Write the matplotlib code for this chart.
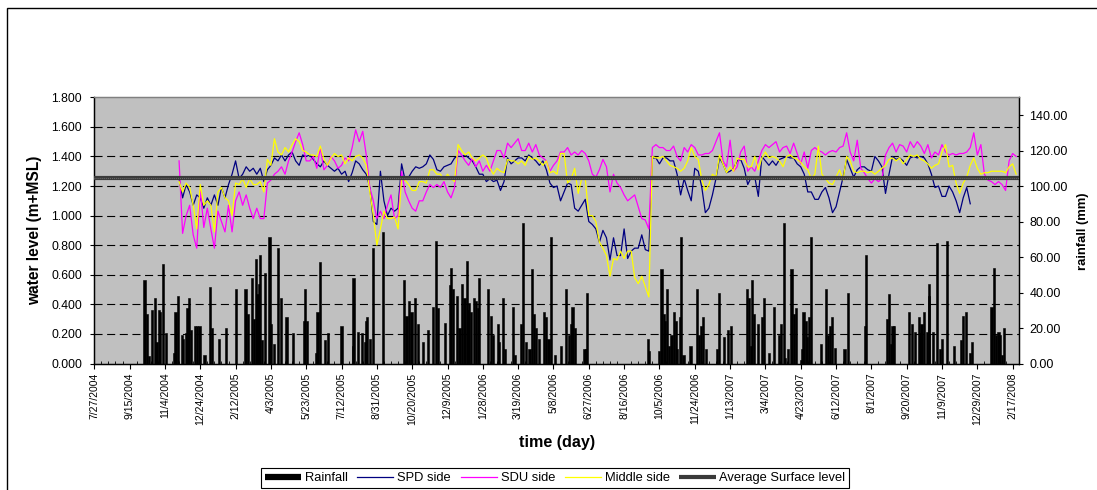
import numpy as np
import matplotlib
matplotlib.use("Agg")
import matplotlib.pyplot as plt
from matplotlib.lines import Line2D
from matplotlib.patches import Rectangle
from matplotlib.ticker import FormatStrFormatter, MultipleLocator

plt.rcParams['font.family'] = ['Liberation Sans', 'DejaVu Sans']
plt.rcParams['lines.scale_dashes'] = False

# ---------------- data ----------------
# x values are days counted from 7/27/2004
LEVEL_FIRST_DAY = 120
LEVEL_STEP_DAYS = 5

spd_side = [
    1.25, 1.12, 1.21, 1.16, 1.07, 1.14, 1.12, 1.05, 1.12, 1.07,
    1.14, 1.07, 1.19, 1.12, 1.21, 1.28, 1.37, 1.25, 1.28, 1.33,
    1.30, 1.32, 1.28, 1.32, 1.23, 1.31, 1.34, 1.39, 1.37, 1.41,
    1.37, 1.41,
    1.43, 1.37, 1.34, 1.41, 1.40, 1.41, 1.38, 1.35, 1.33, 1.37,
    1.34, 1.32, 1.30, 1.32, 1.28, 1.30, 1.23, 1.29, 1.37, 1.35,
    1.31, 1.28, 1.19, 0.96, 0.94, 1.30, 1.10, 1.00, 1.05, 1.03,
    1.05, 1.35, 1.24, 1.26, 1.30, 1.33, 1.32, 1.33, 1.35, 1.41,
    1.38, 1.31,
    1.30, 1.33, 1.34, 1.35, 1.39, 1.40, 1.40, 1.41, 1.39, 1.37,
    1.33, 1.28, 1.28, 1.23, 1.25, 1.23, 1.24, 1.17, 1.23, 1.39,
    1.35, 1.37, 1.39, 1.39, 1.37, 1.41, 1.39, 1.37, 1.34, 1.37,
    1.31, 1.22, 1.19, 1.20, 1.10, 1.16, 1.22, 1.21, 1.05, 1.03,
    1.07, 1.11,
    0.96, 0.94, 0.91, 0.82, 0.90, 0.85, 0.70, 0.85, 0.73, 0.73,
    0.91, 0.71, 0.76, 0.78, 0.78, 0.87, 0.77, 0.76, 1.39, 1.39,
    1.35, 1.39, 1.39, 1.37, 1.37, 1.28, 1.14, 1.25, 1.17, 1.10,
    1.32, 1.30, 1.19, 1.02, 1.05, 1.14, 1.25, 1.39, 1.35, 1.29,
    1.30, 1.32,
    1.37, 1.38, 1.32, 1.21, 1.26, 1.26, 1.13, 1.40, 1.37, 1.34,
    1.37, 1.34, 1.38, 1.39, 1.40, 1.39, 1.39, 1.35, 1.33, 1.28,
    1.16, 1.16, 1.11, 1.11, 1.16, 1.19, 1.12, 1.02, 1.06, 1.16,
    1.26, 1.38, 1.32, 1.26, 1.31, 1.33, 1.33, 1.31, 1.30, 1.40,
    1.37, 1.33,
    1.15, 1.28, 1.40, 1.38, 1.39, 1.37, 1.34, 1.39, 1.40, 1.39,
    1.40, 1.39, 1.35, 1.28, 1.19, 1.20, 1.13, 1.13, 1.20, 1.16,
    1.10, 1.02, 1.12, 1.19, 1.08,
]

sdu_side = [
    1.37, 0.88, 1.00, 1.07, 0.87, 0.78, 1.18, 0.92, 1.05, 0.91,
    0.78, 1.03, 0.96, 0.89, 1.07, 0.89, 1.10, 1.16, 1.07, 1.14,
    1.05, 0.98, 1.05, 0.98, 0.98, 1.22, 1.24, 1.28, 1.30, 1.33,
    1.28, 1.37,
    1.43, 1.50, 1.56, 1.48, 1.37, 1.37, 1.40, 1.32, 1.46, 1.31,
    1.34, 1.40, 1.37, 1.32, 1.34, 1.39, 1.37, 1.46, 1.58, 1.50,
    1.57, 1.41, 1.19, 1.10, 0.98, 1.03, 0.98, 1.07, 1.14, 0.98,
    1.00, 1.30, 1.16, 1.10, 1.05, 1.03, 1.10, 1.10, 1.16, 1.21,
    1.19, 1.21,
    1.19, 1.23, 1.16, 1.12, 1.19, 1.44, 1.41, 1.37, 1.34, 1.39,
    1.33, 1.37, 1.30, 1.34, 1.30, 1.37, 1.44, 1.44, 1.39, 1.49,
    1.46, 1.49, 1.52, 1.44, 1.44, 1.49, 1.43, 1.48, 1.41, 1.39,
    1.37, 1.30, 1.34, 1.37, 1.43, 1.43, 1.46, 1.41, 1.43, 1.41,
    1.44, 1.42,
    1.37, 1.28, 1.26, 1.31, 1.38, 1.33, 1.16, 1.28, 1.22, 1.19,
    1.14, 1.10, 1.12, 1.14, 1.06, 0.98, 0.97, 0.91, 1.46, 1.48,
    1.46, 1.46, 1.44, 1.44, 1.47, 1.40, 1.37, 1.46, 1.43, 1.48,
    1.46, 1.41, 1.41, 1.42, 1.42, 1.44, 1.50, 1.56, 1.37, 1.33,
    1.51, 1.30,
    1.33, 1.43, 1.47, 1.30, 1.33, 1.30, 1.37, 1.44, 1.48, 1.46,
    1.48, 1.50, 1.43, 1.46, 1.47, 1.42, 1.49, 1.42, 1.35, 1.43,
    1.32, 1.44, 1.46, 1.44, 1.43, 1.41, 1.43, 1.44, 1.43, 1.46,
    1.47, 1.56, 1.43, 1.37, 1.51, 1.32, 1.29, 1.25, 1.22, 1.25,
    1.23, 1.25,
    1.41, 1.46, 1.49, 1.43, 1.48, 1.47, 1.43, 1.50, 1.46, 1.50,
    1.47, 1.42, 1.48, 1.39, 1.43, 1.41, 1.48, 1.43, 1.41, 1.42,
    1.41, 1.42, 1.42, 1.43, 1.46, 1.56, 1.41, 1.48, 1.28, 1.24,
    1.23, 1.21, 1.23, 1.21, 1.17, 1.37, 1.42, 1.40,
]

middle_side = [
    1.23, 1.16, 1.22, 1.19, 1.07, 0.91, 1.21, 1.07, 1.10, 1.07,
    0.89, 1.16, 1.19, 1.12, 1.10, 1.00, 1.22, 1.21, 1.25, 1.19,
    1.25, 1.21, 1.21, 1.23, 1.16, 1.38, 1.34, 1.52, 1.43, 1.41,
    1.46, 1.43,
    1.48, 1.52, 1.50, 1.44, 1.43, 1.41, 1.41, 1.40, 1.47, 1.38,
    1.34, 1.39, 1.42, 1.40, 1.41, 1.35, 1.39, 1.37, 1.40, 1.41,
    1.39, 1.34, 1.16, 1.00, 0.80, 0.91, 1.03, 0.98, 0.98, 0.99,
    0.91, 1.25, 1.24, 1.21, 1.17, 1.17, 1.23, 1.23, 1.22, 1.31,
    1.31, 1.28,
    1.28, 1.24, 1.28, 1.25, 1.23, 1.48, 1.44, 1.41, 1.43, 1.39,
    1.37, 1.39, 1.41, 1.39, 1.32, 1.28, 1.32, 1.30, 1.29, 1.38,
    1.37, 1.37, 1.35, 1.37, 1.34, 1.40, 1.38, 1.39, 1.37, 1.34,
    1.37, 1.29, 1.30, 1.28, 1.42, 1.42, 1.22, 1.25, 1.32, 1.15,
    1.25, 1.25,
    1.00, 1.00, 0.96, 0.82, 0.78, 0.73, 0.59, 0.71, 0.70, 0.76,
    0.71, 0.76, 0.76, 0.58, 0.54, 0.59, 0.52, 0.45, 1.40, 1.39,
    1.39, 1.40, 1.37, 1.34, 1.33, 1.32, 1.30, 1.32, 1.37, 1.46,
    1.40, 1.38, 1.24, 1.17, 1.21, 1.28, 1.26, 1.41, 1.35, 1.29,
    1.33, 1.30,
    1.39, 1.38, 1.38, 1.33, 1.33, 1.40, 1.31, 1.39, 1.43, 1.39,
    1.40, 1.39, 1.37, 1.33, 1.40, 1.41, 1.39, 1.38, 1.36, 1.33,
    1.31, 1.25, 1.28, 1.47, 1.28, 1.25, 1.22, 1.21, 1.26, 1.31,
    1.24, 1.40, 1.37, 1.30, 1.29, 1.30, 1.30, 1.29, 1.30, 1.28,
    1.30, 1.32,
    1.34, 1.38, 1.39, 1.37, 1.39, 1.35, 1.38, 1.41, 1.40, 1.41,
    1.38, 1.37, 1.35, 1.32, 1.34, 1.35, 1.43, 1.48, 1.33, 1.34,
    1.22, 1.15, 1.22, 1.26, 1.34, 1.39, 1.32, 1.28, 1.29, 1.29,
    1.30, 1.30, 1.30, 1.30, 1.29, 1.33, 1.35, 1.28,
]

average_surface_level = 1.255

rain_day = [
    71, 74, 78, 82, 86, 88, 92, 93, 97, 102, 113, 115, 118, 124, 126, 130,
    132, 134, 137, 142, 146, 149, 156, 164, 167, 176, 186, 200, 214, 217,
    223, 226, 229, 231, 233, 235, 237, 242, 248, 250, 255, 260, 264, 272,
    281, 297, 298, 301, 314, 316, 320, 326, 331, 350, 366, 367, 373, 379,
    383, 385, 386, 390, 394, 409, 439, 442, 445, 449, 454, 458, 465, 473,
    480, 484, 486, 496, 503, 505, 508, 514, 517, 521, 524, 527, 529, 531,
    533, 537, 540, 543, 545, 557, 562, 565, 571, 573, 578, 582, 593, 596,
    604, 607, 611, 616, 619, 622, 625, 630, 636, 639, 643, 647, 652, 661,
    668, 672, 675, 677, 680, 694, 696, 698, 784, 785, 800, 803, 806, 808,
    811, 813, 817, 821, 823, 825, 829, 831, 834, 844, 853, 856, 859, 862,
    866, 881, 884, 892, 897, 901, 924, 927, 929, 931, 934, 940, 945, 948,
    955, 962, 969, 972, 976, 978, 982, 987, 990, 993, 1000, 1002, 1004,
    1007, 1009, 1012, 1015, 1029, 1036, 1039, 1042, 1044, 1049, 1062, 1067,
    1091, 1093, 1122, 1125, 1128, 1130, 1132, 1153, 1157, 1162, 1167, 1169,
    1171, 1174, 1179, 1181, 1182, 1187, 1193, 1197, 1200, 1207, 1217, 1227,
    1230, 1234, 1240, 1242, 1270, 1274, 1277, 1280, 1282, 1285, 1288,
]
rain_mm = [
    47, 28, 4, 30, 37, 12, 30, 29, 56, 17, 6, 29, 38, 16, 14, 17,
    31, 37, 19, 21, 21, 21, 5, 43, 20, 14, 20, 42, 42, 28,
    48, 25, 59, 39, 45, 61, 13, 51, 71, 22, 11, 65, 37, 26,
    17, 24, 42, 24, 6, 29, 57, 13, 17, 21, 10, 48, 18, 17,
    12, 24, 26, 14, 65, 74, 47, 27, 35, 29, 37, 22, 12, 19,
    32, 69, 31, 23, 44, 54, 42, 38, 20, 45, 37, 58, 30, 34,
    29, 37, 35, 31, 48, 42, 27, 16, 22, 12, 37, 8, 32, 5,
    22, 79, 12, 8, 53, 28, 20, 14, 29, 26, 14, 71, 5, 10,
    42, 16, 22, 32, 20, 8, 8, 40, 14, 7, 7, 53, 28, 24,
    42, 10, 16, 29, 24, 8, 26, 71, 5, 10, 42, 16, 21, 26,
    8, 8, 40, 15, 19, 21, 42, 37, 10, 47, 28, 22, 26, 37,
    6, 32, 16, 22, 79, 3, 8, 53, 28, 31, 2, 8, 29,
    24, 15, 26, 71, 11, 42, 16, 21, 26, 9, 8, 40,
    21, 61, 25, 39, 11, 21, 21, 29, 22, 18, 26, 17,
    22, 29, 18, 38, 45, 18, 68, 8, 14, 69, 10, 13,
    27, 29, 6, 12, 32, 54, 16, 18, 16, 5, 20,
]

date_tick_labels = [
    "7/27/2004", "9/15/2004", "11/4/2004", "12/24/2004", "2/12/2005",
    "4/3/2005", "5/23/2005", "7/12/2005", "8/31/2005", "10/20/2005",
    "12/9/2005", "1/28/2006", "3/19/2006", "5/8/2006", "6/27/2006",
    "8/16/2006", "10/5/2006", "11/24/2006", "1/13/2007", "3/4/2007",
    "4/23/2007", "6/12/2007", "8/1/2007", "9/20/2007", "11/9/2007",
    "12/29/2007", "2/17/2008",
]
date_tick_days = [50 * i for i in range(len(date_tick_labels))]
level_ticks = [0.0, 0.2, 0.4, 0.6, 0.8, 1.0, 1.2, 1.4, 1.6, 1.8]
rain_ticks = [0, 20, 40, 60, 80, 100, 120, 140]

# ---------------- layout ----------------
W, H = 1097, 490
fig = plt.figure(figsize=(W / 100, H / 100), dpi=100)
fig.patch.set_facecolor("white")

L, R, T, B = 94.3, 1019.0, 97.3, 363.5
ax_rain = fig.add_axes([L / W, (H - B) / H, (R - L) / W, (B - T) / H])
ax_rain.set_facecolor("#C0C0C0")
ax_lvl = ax_rain.twinx()

# rainfall bars (right axis)
ax_rain.bar(rain_day, rain_mm, width=3.0, color="black", edgecolor="black",
            linewidth=0.4, zorder=2)
ax_rain.set_ylim(0, 150)
ax_rain.set_xlim(0, 1309)

# water levels (left axis)
def days_for(series):
    return LEVEL_FIRST_DAY + LEVEL_STEP_DAYS * np.arange(len(series))

for v in level_ticks[1:-1]:
    ax_lvl.axhline(v, color="black", lw=0.8, linestyle=(0, (5.8, 3.3)), zorder=1)

c_spd, c_sdu, c_mid = "#000080", "#FF00FF", "#FFFF00"
ax_lvl.plot(days_for(spd_side), spd_side, color=c_spd, lw=0.9, zorder=3)
ax_lvl.plot(days_for(sdu_side), sdu_side, color=c_sdu, lw=0.9, zorder=3)
ax_lvl.plot(days_for(middle_side), middle_side, color=c_mid, lw=0.9, zorder=3)
ax_lvl.axhline(average_surface_level, color="#3a3a3a", lw=3.0, zorder=4)
ax_lvl.axhline(average_surface_level, color="#6a6a6a", lw=0.8,
               linestyle=(0, (0.7, 0.7)), zorder=5)
ax_lvl.set_ylim(0, 1.8)
ax_lvl.set_xlim(0, 1309)

# axes styling
ax_rain.yaxis.tick_right()
ax_rain.yaxis.set_label_position("right")
ax_lvl.yaxis.tick_left()
ax_lvl.yaxis.set_label_position("left")

ax_lvl.set_yticks(level_ticks)
ax_lvl.yaxis.set_major_formatter(FormatStrFormatter("%.3f"))
ax_lvl.tick_params(axis="y", which="major", direction="out", length=3.2,
                   width=0.8, pad=5.6, labelsize=8.8, left=True, right=False,
                   labelleft=True, labelright=False)

ax_rain.set_yticks(rain_ticks)
ax_rain.yaxis.set_major_formatter(FormatStrFormatter("%.2f"))
ax_rain.tick_params(axis="y", which="major", direction="out", length=3.2,
                    width=0.8, pad=4.3, labelsize=9, right=True, left=False,
                    labelright=True, labelleft=False)

ax_rain.set_xticks(date_tick_days)
ax_rain.set_xticklabels(date_tick_labels, rotation=90, fontsize=7.5)
ax_rain.xaxis.set_minor_locator(MultipleLocator(10))
ax_rain.tick_params(axis="x", which="major", direction="out", length=3.5,
                    width=0.8, pad=3.2)
ax_rain.tick_params(axis="x", which="minor", direction="in", length=2,
                    width=0.6)

for a in (ax_rain, ax_lvl):
    for s in ("left", "right", "bottom"):
        a.spines[s].set_color("black")
        a.spines[s].set_linewidth(0.9)
    a.spines["top"].set_color("#808080")
    a.spines["top"].set_linewidth(0.9)

# axis titles
fig.text(35 / W, (H - 230) / H, "water level (m+MSL)", rotation=90,
         ha="center", va="center", fontsize=11.2, fontweight="bold")
fig.text(1083 / W, (H - 231) / H, "rainfall (mm)", rotation=90,
         ha="center", va="center", fontsize=9.4, fontweight="bold")
fig.text(557 / W, (H - 442) / H, "time (day)", ha="center", va="center",
         fontsize=11.6, fontweight="bold")

# legend
handles = [
    Line2D([], [], color="black", lw=4.5, solid_capstyle="butt"),
    Line2D([], [], color=c_spd, lw=0.9),
    Line2D([], [], color=c_sdu, lw=0.9),
    Line2D([], [], color=c_mid, lw=0.9),
    Line2D([], [], color="#3a3a3a", lw=3.0, solid_capstyle="butt"),
]
labels = ["Rainfall", "SPD side", "SDU side", "Middle side", "Average Surface level"]
leg = fig.legend(handles, labels, loc="center", bbox_to_anchor=(555 / W, (H - 478) / H),
                 ncol=5, fontsize=9.3, frameon=True, fancybox=False,
                 edgecolor="black", framealpha=1, handlelength=2.8,
                 handletextpad=0.3, columnspacing=0.75, borderpad=0.3,
                 borderaxespad=0)
leg.get_frame().set_linewidth(0.8)

# outer chart frame
fig.add_artist(Rectangle((7 / W, -0.2), 1.5, (H - 8) / H + 0.2,
                         transform=fig.transFigure, fill=False,
                         edgecolor="black", linewidth=1.0))

fig.savefig("out.png", dpi=100, facecolor="white")
